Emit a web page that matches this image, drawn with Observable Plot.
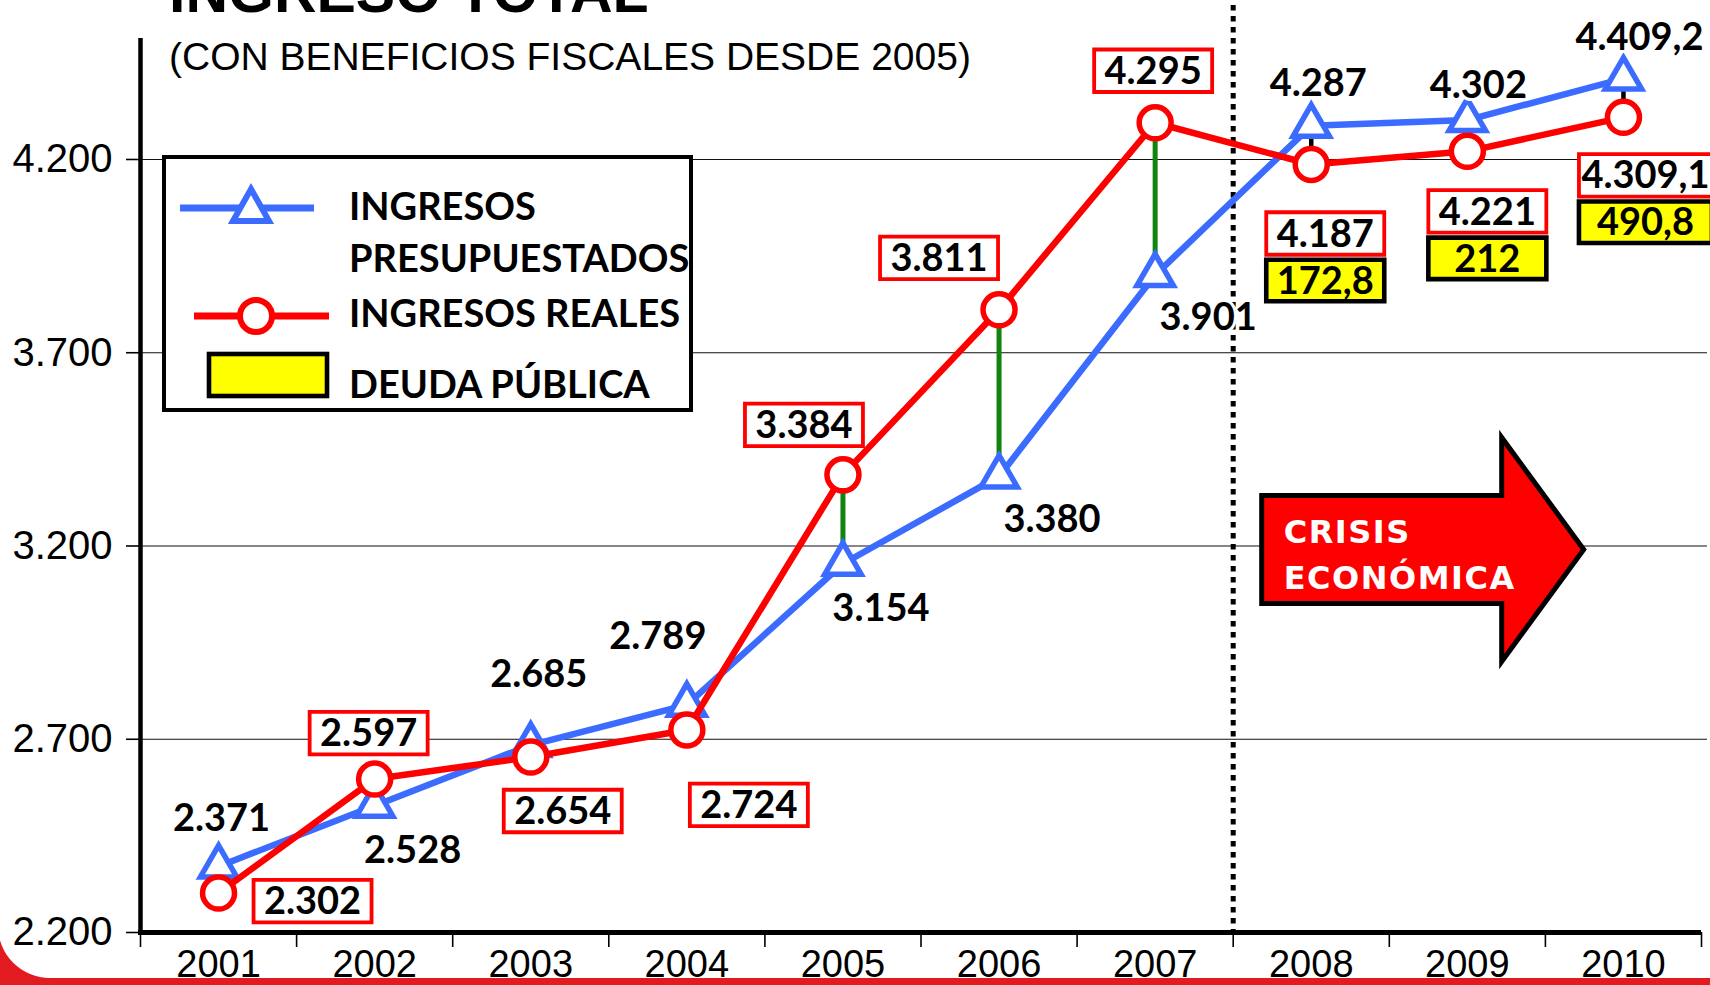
<!DOCTYPE html>
<html>
<head>
<meta charset="utf-8">
<script src="https://cdn.jsdelivr.net/npm/d3@7"></script>
<script src="https://cdn.jsdelivr.net/npm/@observablehq/plot@0.6"></script>
<style>
  body { margin: 0; background: #fff; }
  #wrap { position: relative; width: 1710px; height: 985px; overflow: hidden; background: #e11b20; }
  #paper { position: absolute; left: -2px; top: 0; width: 1712px; height: 978px; background: #fff; border-bottom-left-radius: 52px; }
  #chart { position: absolute; left: 0; top: 0; }
  #bar { position: absolute; left: 0; top: 978px; width: 1710px; height: 7px; background: #e11b20; }
  .title { position: absolute; left: 169px; font-family: "Liberation Sans", Arial, sans-serif; line-height: 1; white-space: nowrap; color: #000; }
  #legend { position: absolute; left: 162px; top: 155px; width: 531px; height: 257px; box-sizing: border-box; border: 4px solid #000; background: #fff; }
  #legend svg { position: absolute; left: 0; top: 0; }
  #chart svg g[aria-label="y-axis tick"], #chart svg g[aria-label="x-axis tick"] { stroke-width: 1.6; }
</style>
</head>
<body>
<div id="wrap">
  <div id="paper"></div>
  <div id="chart"></div>
  <div class="title" style="top:-37px;font-size:59px;font-weight:bold;">INGRESO TOTAL</div>
  <div class="title" style="top:37px;font-size:39px;">(CON BENEFICIOS FISCALES DESDE 2005)</div>
  <div id="legend"></div>
  <div id="bar"></div>
</div>
<script>
// ---------------- data ----------------
const years = [2001, 2002, 2003, 2004, 2005, 2006, 2007, 2008, 2009, 2010];
const presupuestados = [2371, 2528, 2685, 2789, 3154, 3380, 3901, 4287, 4302, 4409.2];
const reales = [2302, 2597, 2654, 2724, 3384, 3811, 4295, 4187, 4221, 4309.1];
const deudaYears = [2008, 2009, 2010];
const deuda = [172.8, 212, 490.8];
const yTicks = [2200, 2700, 3200, 3700, 4200];
const xDomain = [2000.5, 2010.5];
const xBoundaries = [2000.5, 2001.5, 2002.5, 2003.5, 2004.5, 2005.5, 2006.5, 2007.5, 2008.5, 2009.5, 2010.5];
const crisisYear = 2007.5;
const beneficiosDesde = 2005;
const seriesNames = ["INGRESOS PRESUPUESTADOS", "INGRESOS REALES", "DEUDA PÚBLICA"];
const crisisText = ["CRISIS", "ECONÓMICA"];

// label placement (pixel offsets from each point)
const presLabelOffset = [[3,-48],[38,45],[8,-70],[-29,-68],[38,45],[53,43],[53,43],[7,-42],[11,-34],[16,-41]];
const realLabelOffset = [[94,8],[-6,-46],[32,54],[62,75],[-39,-50],[-60,-52],[-2,-52],[14,69],[20,60],[22,58]];

// ---------------- helpers ----------------
const loc = d3.formatLocale({decimal: ",", thousands: ".", grouping: [3], currency: ["", ""]});
const fmt = loc.format(",");
const rows = years.map((year, i) => ({year, pres: presupuestados[i], real: reales[i]}));

const BLUE = "#3b6cff", RED = "#ff0000", GREEN = "#118311", YELLOW = "#ffff00";
const LABEL_FONT = "Lato, 'Open Sans', sans-serif";
const AXIS_FONT = "'Liberation Sans', Arial, sans-serif";
const box = (w, h) => ({draw(ctx) { ctx.rect(-w / 2, -h / 2, w, h); }});

function crisisArrow(index, scales) {
  const x0 = scales.x(crisisYear) + 29, yc = scales.y(yTicks[2]) + 4;
  const g = d3.create("svg:g");
  g.append("path")
    .attr("d", `M${x0},${yc-54}H${x0+240}V${yc-112}L${x0+322},${yc}L${x0+240},${yc+112}V${yc+54}H${x0}Z`)
    .attr("fill", RED).attr("stroke", "#000").attr("stroke-width", 5).attr("stroke-linejoin", "miter");
  crisisText.forEach((t, i) => {
    g.append("text").attr("x", x0 + 22).attr("y", yc - 6 + i * 46).attr("text-anchor", "start")
      .attr("fill", "#fff").attr("font-family", "'DejaVu Sans', sans-serif").attr("font-weight", "bold")
      .attr("font-size", 32).attr("letter-spacing", 1.5).text(t);
  });
  return g.node();
}

const marks = [
  // gridlines
  Plot.ruleY(yTicks.slice(1), {stroke: "#111", strokeWidth: 1.2, insetRight: -6}),
  // crisis boundary
  Plot.ruleX([crisisYear], {stroke: "#000", strokeWidth: 5, strokeDasharray: "5.5,5.5", insetTop: -33}),
  // difference connectors
  Plot.ruleX(rows.filter(d => d.year >= beneficiosDesde && d.real > d.pres), {x: "year", y1: "pres", y2: "real", stroke: GREEN, strokeWidth: 5}),
  Plot.ruleX(rows.filter(d => d.year >= beneficiosDesde && d.real <= d.pres), {x: "year", y1: "pres", y2: "real", stroke: "#000", strokeWidth: 4.5}),
  // presupuestados
  Plot.line(rows, {x: "year", y: "pres", stroke: BLUE, strokeWidth: 6.5}),
  Plot.dot(rows, {x: "year", y: "pres", symbol: "triangle", r: 13.5, stroke: BLUE, strokeWidth: 5.5, fill: "#fff"}),
  // reales
  Plot.line(rows, {x: "year", y: "real", stroke: RED, strokeWidth: 6.5}),
  Plot.dot(rows, {x: "year", y: "real", r: 16, stroke: RED, strokeWidth: 5.5, fill: "#fff"}),
  // axis lines
  Plot.ruleX([xDomain[0]], {stroke: "#000", strokeWidth: 4.5, insetBottom: -2}),
  Plot.ruleY([yTicks[0]], {stroke: "#000", strokeWidth: 5, insetLeft: -2}),
  // year labels
  Plot.text(years, {x: d => d, text: d => String(d), frameAnchor: "bottom", lineAnchor: "middle", dy: 32, fontSize: 38,
    fontFamily: AXIS_FONT, fill: "#000"}),
  // crisis arrow
  crisisArrow
];

// presupuestado labels (plain bold text)
rows.forEach((d, i) => {
  marks.push(Plot.text([d], {x: "year", y: "pres", text: d => fmt(d.pres), dx: presLabelOffset[i][0], dy: presLabelOffset[i][1],
    fontFamily: LABEL_FONT, fontWeight: "bold", fontSize: 38, fill: "#000", stroke: "#fff", strokeWidth: 6}));
});
// real labels (boxed in red) and deuda boxes (yellow)
rows.forEach((d, i) => {
  const txt = fmt(d.real);
  const w = txt.length > 5 ? 133 : 118;
  const [dx, dy] = realLabelOffset[i];
  marks.push(Plot.dot([d], {x: "year", y: "real", dx, dy, symbol: box(w, 42.5), stroke: RED, strokeWidth: 3.8, fill: "#fff"}));
  marks.push(Plot.text([d], {x: "year", y: "real", text: () => txt, dx, dy: dy + 1,
    fontFamily: LABEL_FONT, fontWeight: "bold", fontSize: 38, fill: "#000"}));
  const di = deudaYears.indexOf(d.year);
  if (di >= 0) {
    marks.push(Plot.dot([d], {x: "year", y: "real", dx, dy: dy + 47, symbol: box(w, 41.5), stroke: "#000", strokeWidth: 4.6, fill: YELLOW}));
    marks.push(Plot.text([d], {x: "year", y: "real", text: () => fmt(deuda[di]), dx, dy: dy + 48,
      fontFamily: LABEL_FONT, fontWeight: "bold", fontSize: 38, fill: "#000"}));
  }
});

const chart = Plot.plot({
  width: 1710,
  height: 985,
  marginLeft: 140,
  marginRight: 9,
  marginTop: 38,
  marginBottom: 53,
  style: {background: "transparent", overflow: "visible", fontFamily: AXIS_FONT, fontSize: "40px", color: "#000"},
  x: {type: "linear", domain: xDomain, ticks: xBoundaries, tickFormat: () => "", tickSize: 15, label: null},
  y: {domain: [2200, 4513], ticks: yTicks, tickFormat: fmt, tickSize: 14, tickPadding: 14, label: null},
  marks
});
document.getElementById("chart").appendChild(chart);

// ---------------- legend ----------------
const lg = d3.select("#legend").append("svg").attr("width", 523).attr("height", 249);
lg.append("line").attr("x1", 14).attr("x2", 148).attr("y1", 49).attr("y2", 49).attr("stroke", BLUE).attr("stroke-width", 7);
lg.append("path").attr("d", "M85,30L103,62L67,62Z").attr("fill", "#fff").attr("stroke", BLUE).attr("stroke-width", 6);
lg.append("line").attr("x1", 28).attr("x2", 163).attr("y1", 157).attr("y2", 157).attr("stroke", RED).attr("stroke-width", 7);
lg.append("circle").attr("cx", 90).attr("cy", 157).attr("r", 16).attr("fill", "#fff").attr("stroke", RED).attr("stroke-width", 6);
lg.append("rect").attr("x", 43).attr("y", 195).attr("width", 118).attr("height", 42).attr("fill", YELLOW).attr("stroke", "#000").attr("stroke-width", 4.6);
const legendText = [["INGRESOS", 61], ["PRESUPUESTADOS", 113], [seriesNames[1], 168], [seriesNames[2], 239]];
legendText.forEach(([t, y]) => {
  lg.append("text").attr("x", 183).attr("y", y).attr("font-family", LABEL_FONT).attr("font-weight", "bold")
    .attr("font-size", 38).attr("fill", "#000").text(t);
});
</script>
</body>
</html>
